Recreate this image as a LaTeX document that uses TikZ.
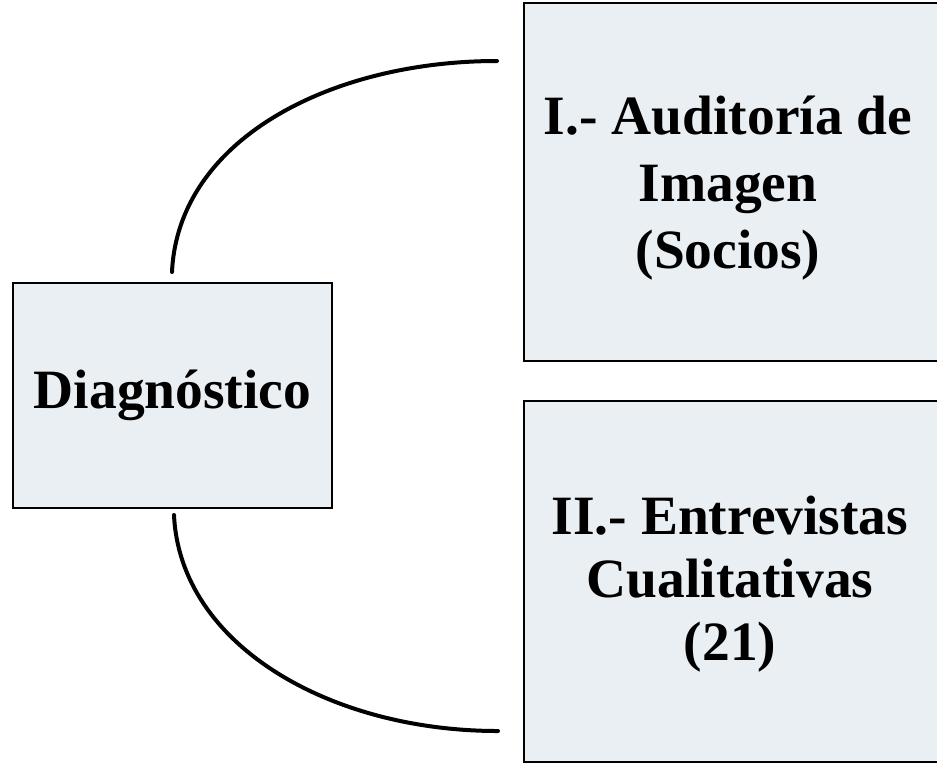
\documentclass[tikz,border=0pt]{standalone}
\usepackage{fontspec}
\setmainfont{Liberation Serif}
\definecolor{boxfill}{RGB}{234,239,243}
\begin{document}
\begin{tikzpicture}[x=0.75pt,y=-0.75pt,
  blockbox/.style={draw=black, line width=2pt, fill=boxfill, inner sep=0pt},
  blocktext/.style={inner sep=0pt, align=center, font=\bfseries\fontsize{41.6}{50}\selectfont},
  curveline/.style={line width=3pt, line cap=round}]
\useasboundingbox (0,0) rectangle (937,764);
\clip (0,0) rectangle (937,764);
\node[blockbox, minimum width=239.25pt, minimum height=168.75pt] (diag) at (172.5,395.5) {};
\node[blocktext] (diagt) at (diag.center) {Diagnóstico};
\node[blockbox, minimum width=330pt, minimum height=268.5pt] (aud) at (744,182) {};
\node[blocktext, font=\bfseries\fontsize{41.6}{50.5}\selectfont] (audt) at (728,188) {I.- Auditoría de\\Imagen\\(Socios)};
\node[blockbox, minimum width=330pt, minimum height=270.75pt] (ent) at (744,581.5) {};
\node[blocktext, font=\bfseries\fontsize{41.6}{47}\selectfont] (entt) at (730,584) {II.- Entrevistas\\Cualitativas\\(21)};
\coordinate (c1) at (172,272);
\coordinate (c2) at (497,61);
\coordinate (c3) at (174,515);
\coordinate (c4) at (498,731);
\draw[curveline] (c1) .. controls (178,140) and (330,61) .. (c2);
\draw[curveline] (c3) .. controls (180,645) and (330,731) .. (c4);
\end{tikzpicture}
\end{document}
